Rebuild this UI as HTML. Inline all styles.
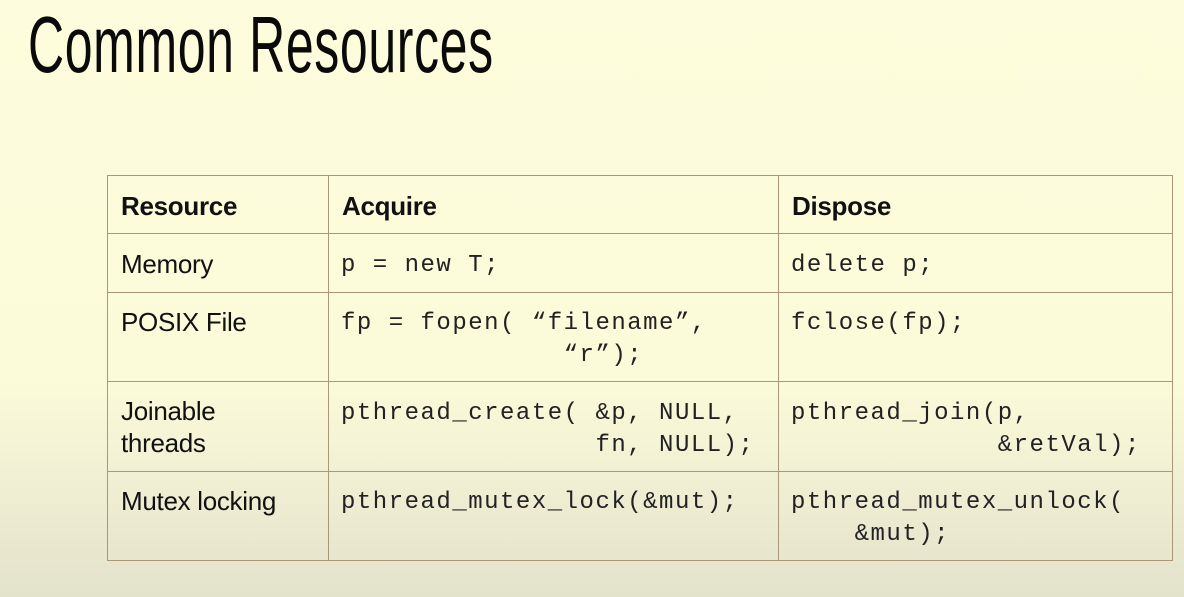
<!DOCTYPE html>
<html><head><meta charset="utf-8"><style>
html,body{margin:0;padding:0}
body{width:1184px;height:597px;overflow:hidden;position:relative;
background:linear-gradient(to bottom,#fdfddd 0px,#fbfbda 380px,#eeedd2 500px,#e3e2cb 597px);
font-family:"Liberation Sans",Arial,sans-serif;color:#111}
.title{position:absolute;left:28px;top:-1px;font-size:80px;transform:scaleX(0.625);transform-origin:0 0;white-space:nowrap;color:#0a0a0a;letter-spacing:1px}
.h{position:absolute;background:#a89878;height:1px}
.v{position:absolute;background:#a89878;width:1px}
.t{position:absolute;font-size:26px;line-height:32px;white-space:pre;letter-spacing:-0.3px}
.b{font-weight:bold}
.m{font-family:"Liberation Mono","Courier New",monospace;font-size:24px;letter-spacing:1.5px;color:#222}
</style></head><body>
<div class="title">Common Resources</div>
<div class="h" style="left:107px;width:1066px;top:175px"></div>
<div class="h" style="left:107px;width:1066px;top:233px"></div>
<div class="h" style="left:107px;width:1066px;top:292px"></div>
<div class="h" style="left:107px;width:1066px;top:381px"></div>
<div class="h" style="left:107px;width:1066px;top:471px"></div>
<div class="h" style="left:107px;width:1066px;top:560px"></div>
<div class="v" style="left:107px;top:175px;height:386px"></div>
<div class="v" style="left:328px;top:175px;height:386px"></div>
<div class="v" style="left:778px;top:175px;height:386px"></div>
<div class="v" style="left:1172px;top:175px;height:386px"></div>

<div class="t b" style="left:121px;top:190px">Resource</div>
<div class="t b" style="left:342px;top:190px">Acquire</div>
<div class="t b" style="left:792px;top:190px">Dispose</div>

<div class="t" style="left:121px;top:248px">Memory</div>
<div class="t m" style="left:341px;top:250px">p = new T;</div>
<div class="t m" style="left:791px;top:250px">delete p;</div>

<div class="t" style="left:121px;top:306px">POSIX File</div>
<div class="t m" style="left:341px;top:308px">fp = fopen( “filename”,
              “r”);</div>
<div class="t m" style="left:791px;top:308px">fclose(fp);</div>

<div class="t" style="left:121px;top:395px">Joinable
threads</div>
<div class="t m" style="left:341px;top:398px">pthread_create( &amp;p, NULL,
                fn, NULL);</div>
<div class="t m" style="left:791px;top:398px">pthread_join(p,
             &amp;retVal);</div>

<div class="t" style="left:121px;top:485px">Mutex locking</div>
<div class="t m" style="left:341px;top:487px">pthread_mutex_lock(&amp;mut);</div>
<div class="t m" style="left:791px;top:487px">pthread_mutex_unlock(
    &amp;mut);</div>
</body></html>
